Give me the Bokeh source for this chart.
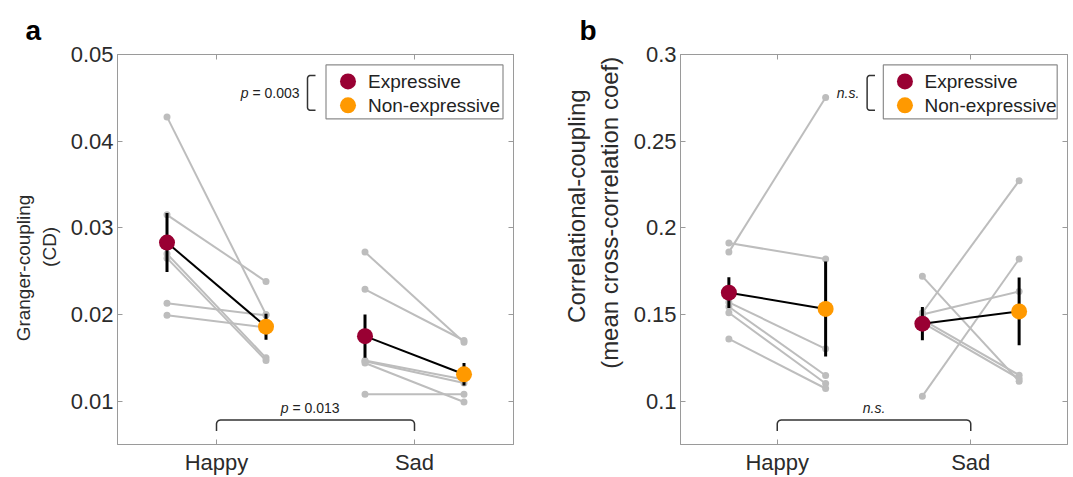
import numpy as np
from bokeh.plotting import figure
from bokeh.models import LinearAxis, FixedTicker, Range1d, Title
from bokeh.layouts import row
from bokeh.embed import file_html
from bokeh.resources import INLINE
from bokeh.core.properties import value

# ---------------- data ----------------
conditions = ["Happy", "Sad"]
groups = ["Expressive", "Non-expressive"]

# Panel a: Granger-coupling (CD), one value per subject (paired by index)
granger_happy_expr = [0.0428, 0.0315, 0.0270, 0.0265, 0.0213, 0.0199]
granger_happy_nonexpr = [0.0200, 0.0238, 0.0150, 0.0147, 0.0199, 0.0185]
granger_sad_expr = [0.0272, 0.0229, 0.0147, 0.0146, 0.0144, 0.0108]
granger_sad_nonexpr = [0.0168, 0.0170, 0.0125, 0.0121, 0.0099, 0.0108]
granger_mean_expr = [0.0283, 0.0175]
granger_mean_nonexpr = [0.0186, 0.0131]
granger_err_expr = [0.0034, 0.0025]
granger_err_nonexpr = [0.0015, 0.0013]
granger_yticks = [0.01, 0.02, 0.03, 0.04, 0.05]
granger_yticklabels = ["0.01", "0.02", "0.03", "0.04", "0.05"]

# Panel b: Correlational-coupling
corr_happy_expr = [0.1912, 0.1860, 0.1570, 0.1545, 0.1510, 0.1359]
corr_happy_nonexpr = [0.1820, 0.2752, 0.1302, 0.1148, 0.1102, 0.1073]
corr_sad_expr = [0.1720, 0.1029, 0.1510, 0.1500, 0.1470, 0.1453]
corr_sad_nonexpr = [0.1115, 0.1820, 0.2272, 0.1633, 0.1150, 0.1130]
corr_mean_expr = [0.1626, 0.1447]
corr_mean_nonexpr = [0.1532, 0.1518]
corr_err_expr = [0.0089, 0.0096]
corr_err_nonexpr = [0.0274, 0.0195]
corr_yticks = [0.1, 0.15, 0.2, 0.25, 0.3]
corr_yticklabels = ["0.1", "0.15", "0.2", "0.25", "0.3"]

# ---------------- style ----------------
FONT = "Liberation Sans"
C_EXPR = "#990033"
C_NON = "#FF9900"
C_GRAY = "#BDBDBD"
C_BOX = "#9A9A9A"
C_TEXT = "#2b2b2b"
OFFSET = 0.25
FRAME_H = 391
BORDER_TOP = 54
HEIGHT = 477
NB = "\u00a0"  # non-breaking space used to nudge label lines along the axis


def bracket_left(p, xb, ytop, ybot, dxpx, dypx, arm=8, r=3):
    H = (ytop - ybot) / dypx
    pts = [(arm, 0), (r, 0)]
    for a in np.linspace(90, 180, 8):
        pts.append((r + r * np.cos(np.radians(a)), -r + r * np.sin(np.radians(a))))
    pts.append((0, -(H - r)))
    for a in np.linspace(180, 270, 8):
        pts.append((r + r * np.cos(np.radians(a)), -(H - r) + r * np.sin(np.radians(a))))
    pts.append((arm, -H))
    xs = [xb + u * dxpx for u, _ in pts]
    ys = [ytop + v * dypx for _, v in pts]
    p.line(xs, ys, line_color="#333333", line_width=1.5)


def bracket_top(p, x1, x2, yh, ylow, dxpx, dypx, r=4):
    W = (x2 - x1) / dxpx
    h = (yh - ylow) / dypx
    pts = [(0, -h), (0, -r)]
    for a in np.linspace(180, 90, 8):
        pts.append((r + r * np.cos(np.radians(a)), -r + r * np.sin(np.radians(a))))
    pts.append((W - r, 0))
    for a in np.linspace(90, 0, 8):
        pts.append((W - r + r * np.cos(np.radians(a)), -r + r * np.sin(np.radians(a))))
    pts.append((W, -h))
    xs = [x1 + u * dxpx for u, _ in pts]
    ys = [yh + v * dypx for _, v in pts]
    p.line(xs, ys, line_color="#333333", line_width=1.5)


def make_panel(letter, ylabel, ylabel_size, yr, yticks, yticklabels,
               happy_e, happy_n, sad_e, sad_n, mean_e, mean_n, err_e, err_n,
               width, border_left, frame_w, sig_top, sig_bottom, ns_style, letter_x):
    p = figure(width=width, height=HEIGHT, x_range=Range1d(0.5, 2.5), y_range=Range1d(*yr),
               output_backend="svg", toolbar_location=None,
               min_border_left=border_left, min_border_right=width - border_left - frame_w,
               min_border_top=BORDER_TOP, min_border_bottom=HEIGHT - BORDER_TOP - FRAME_H)
    p.grid.visible = False
    p.outline_line_color = C_BOX
    p.background_fill_color = "white"
    p.border_fill_color = "white"

    dxpx = 2.0 / frame_w
    dypx = (yr[1] - yr[0]) / FRAME_H
    x0r, x1r = 0.5, 2.5
    y0, y1 = yr

    xc = [i + 1 for i in range(len(conditions))]
    x_e = [c - OFFSET for c in xc]
    x_n = [c + OFFSET for c in xc]

    # subject lines and dots
    xs, ys = [], []
    for ci, (ev, nv) in enumerate([(happy_e, happy_n), (sad_e, sad_n)]):
        for a, b in zip(ev, nv):
            xs.append([x_e[ci], x_n[ci]])
            ys.append([a, b])
    p.multi_line(xs, ys, line_color=C_GRAY, line_width=2)
    dot_x, dot_y = [], []
    for ci, (ev, nv) in enumerate([(happy_e, happy_n), (sad_e, sad_n)]):
        dot_x += [x_e[ci]] * len(ev) + [x_n[ci]] * len(nv)
        dot_y += list(ev) + list(nv)
    p.scatter(dot_x, dot_y, size=7, fill_color=C_GRAY, line_color=None)

    # mean lines, error bars, mean markers
    for ci in range(len(conditions)):
        p.line([x_e[ci], x_n[ci]], [mean_e[ci], mean_n[ci]], line_color="black", line_width=2)
    p.segment(x_e, [m - e for m, e in zip(mean_e, err_e)], x_e, [m + e for m, e in zip(mean_e, err_e)],
              line_color="black", line_width=3)
    p.segment(x_n, [m - e for m, e in zip(mean_n, err_n)], x_n, [m + e for m, e in zip(mean_n, err_n)],
              line_color="black", line_width=3)
    p.scatter(x_e, mean_e, size=16, fill_color=C_EXPR, line_color=None)
    p.scatter(x_n, mean_n, size=16, fill_color=C_NON, line_color=None)

    # axes
    for ax in (p.xaxis[0], p.yaxis[0]):
        ax.axis_line_color = C_BOX
        ax.major_tick_line_color = C_BOX
        ax.major_tick_in = 5
        ax.major_tick_out = 0
        ax.minor_tick_line_color = None
        ax.major_label_text_font = FONT
        ax.major_label_text_font_size = "22px"
        ax.major_label_text_color = C_TEXT
    p.xaxis.ticker = FixedTicker(ticks=xc)
    p.xaxis.major_label_overrides = {c: lab for c, lab in zip(xc, conditions)}
    p.xaxis.major_label_standoff = 5
    p.yaxis.ticker = FixedTicker(ticks=yticks)
    p.yaxis.major_label_overrides = {t: lab for t, lab in zip(yticks, yticklabels)}
    p.yaxis.major_label_standoff = 4
    p.yaxis.axis_label = ylabel
    p.yaxis.axis_label_text_font = FONT
    p.yaxis.axis_label_text_font_size = ylabel_size
    p.yaxis.axis_label_text_font_style = "normal"
    p.yaxis.axis_label_text_color = C_TEXT
    p.yaxis.axis_label_standoff = 8

    top = LinearAxis(ticker=FixedTicker(ticks=xc), major_label_overrides={c: "" for c in xc})
    right = LinearAxis(ticker=FixedTicker(ticks=yticks), major_label_overrides={t: "" for t in yticks})
    for ax in (top, right):
        ax.axis_line_color = C_BOX
        ax.major_tick_line_color = C_BOX
        ax.major_tick_in = 5
        ax.major_tick_out = 0
        ax.minor_tick_line_color = None
        ax.major_label_standoff = 0
        ax.major_label_text_font_size = "1px"
    p.add_layout(top, "above")
    p.add_layout(right, "right")

    # significance markers
    xb = x0r + 190 * dxpx
    ytop = y1 - 21 * dypx
    ybot = y1 - 56 * dypx
    bracket_left(p, xb, ytop, ybot, dxpx, dypx)
    ymid = (ytop + ybot) / 2
    txt = dict(text_font=value(FONT), text_font_size="14px", text_baseline="middle", text_color="#222222")
    if ns_style:
        p.text([xb - 8 * dxpx], [ymid], text=[sig_top], text_font_style="italic", text_align="right", **txt)
    else:
        p.text([xb - 8 * dxpx], [ymid], text=[sig_top[1:].strip()], text_align="right", **txt)
        p.text([xb - 8 * dxpx], [ymid], text=[sig_top[0]], text_font_style="italic", text_align="right",
               x_offset=-51, **txt)

    yh = y0 + 24.5 * dypx
    ylow = y0 + 13.5 * dypx
    bracket_top(p, xc[0], xc[1], yh, ylow, dxpx, dypx)
    ytxt = yh + 12 * dypx
    if ns_style:
        p.text([1.5], [ytxt], text=[sig_bottom], text_font_style="italic", text_align="center", **txt)
    else:
        p.text([1.5], [ytxt], text=[sig_bottom[1:].strip()], text_align="left", x_offset=-23, **txt)
        p.text([1.5], [ytxt], text=[sig_bottom[0]], text_font_style="italic", text_align="right",
               x_offset=-27, **txt)

    # legend (drawn as glyphs so marker size matches)
    lw, lh = 177, 54
    lx1 = x1r - 10.5 * dxpx
    lx0 = lx1 - lw * dxpx
    ly1 = y1 - 10.5 * dypx
    ly0 = ly1 - lh * dypx
    p.quad(left=[lx0], right=[lx1], bottom=[ly0], top=[ly1], fill_color="white",
           line_color="#8C8C8C", line_width=1.2)
    row_y = [ly1 - 16.5 * dypx, ly1 - 40.5 * dypx]
    p.scatter([lx0 + 22 * dxpx] * 2, row_y, size=16, fill_color=[C_EXPR, C_NON], line_color=None)
    p.text([lx0 + 42 * dxpx] * 2, row_y, text=groups, text_font=value(FONT), text_font_size="19px",
           text_baseline="middle", text_align="left", text_color="#222222")

    t = Title(text=letter, align="left", offset=letter_x - border_left,
              text_font=FONT, text_font_size="28px", text_font_style="bold", text_color="black",
              standoff=17)
    p.add_layout(t, "above")
    return p


ylabel_a = "Granger-coupling" + NB * 7 + "\n" + NB + "(CD)"
ylabel_b = NB * 13 + "Correlational-coupling" + "\n" + NB * 11 + "(mean cross-correlation coef)"

pa = make_panel("a", ylabel_a, "19px", (0.005, 0.05), granger_yticks, granger_yticklabels,
                granger_happy_expr, granger_happy_nonexpr, granger_sad_expr, granger_sad_nonexpr,
                granger_mean_expr, granger_mean_nonexpr, granger_err_expr, granger_err_nonexpr,
                width=560, border_left=117, frame_w=396,
                sig_top="p = 0.003", sig_bottom="p = 0.013", ns_style=False, letter_x=25)
pb = make_panel("b", ylabel_b, "24px", (0.075, 0.3),
                corr_yticks, corr_yticklabels,
                corr_happy_expr, corr_happy_nonexpr, corr_sad_expr, corr_sad_nonexpr,
                corr_mean_expr, corr_mean_nonexpr, corr_err_expr, corr_err_nonexpr,
                width=512, border_left=113, frame_w=394,
                sig_top="n.s.", sig_bottom="n.s.", ns_style=True, letter_x=12)

layout = row(pa, pb)
open("out.html", "w").write(file_html(layout, INLINE))
